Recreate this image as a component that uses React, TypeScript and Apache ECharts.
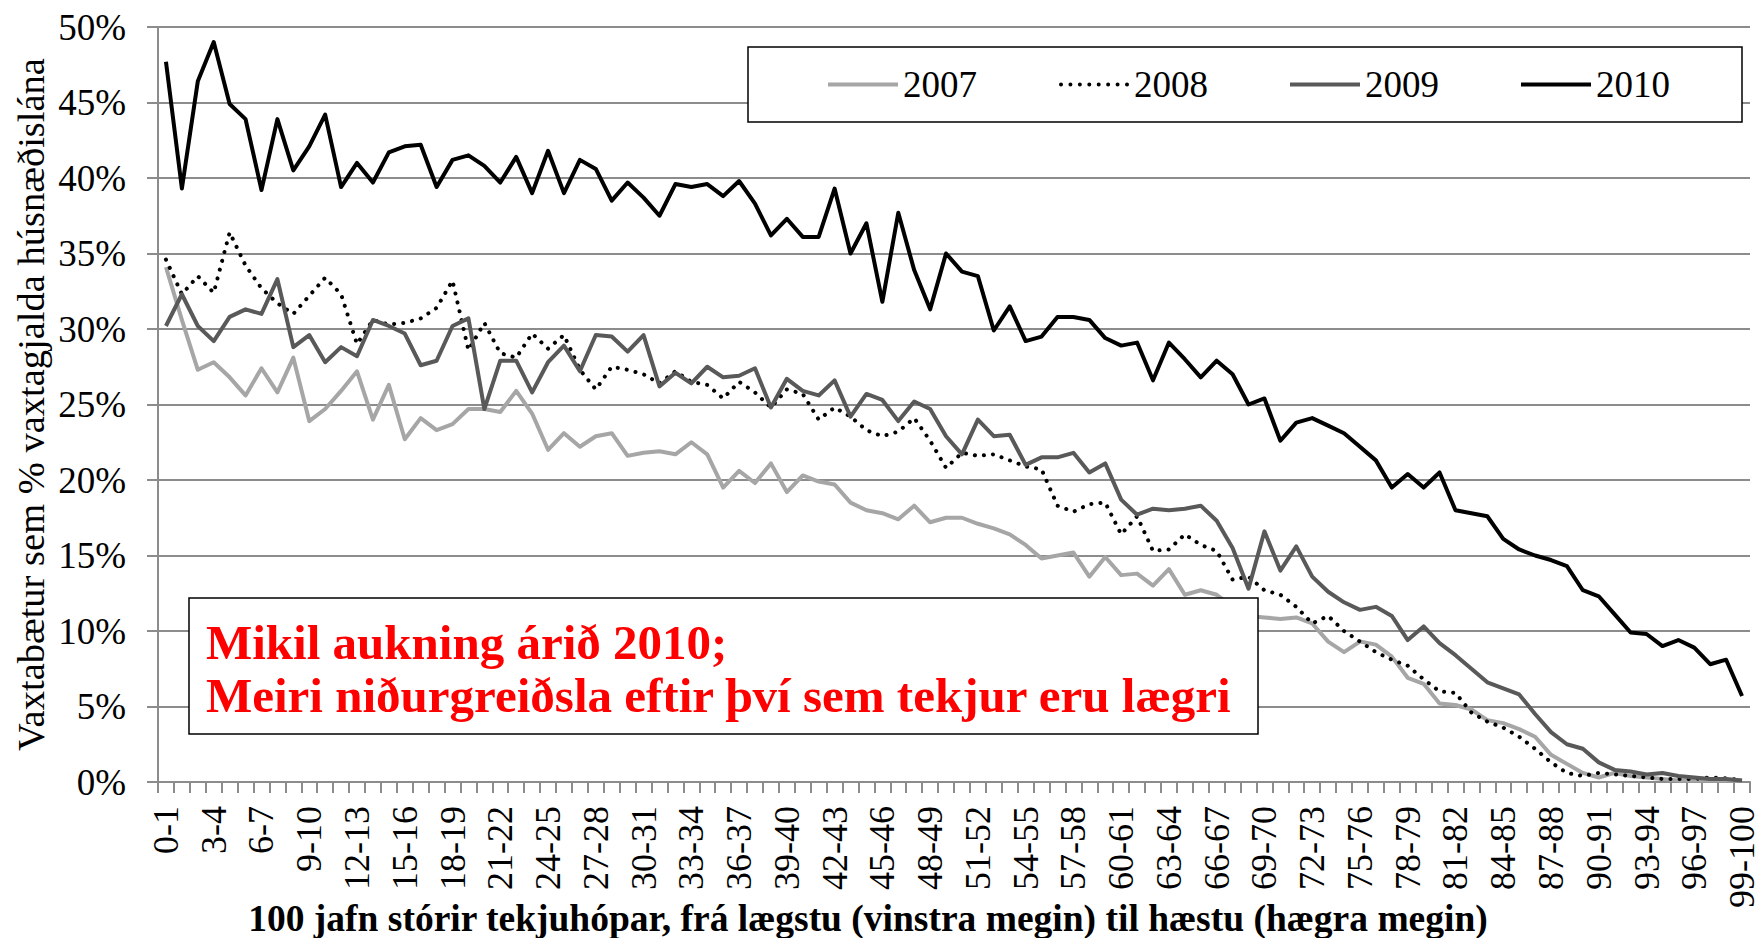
import React, { useEffect, useRef } from "react";
import * as echarts from "echarts";

const categories = [
  "0-1","1-2","2-3","3-4","4-5","5-6","6-7","7-8","8-9","9-10",
  "10-11","11-12","12-13","13-14","14-15","15-16","16-17","17-18","18-19","19-20",
  "20-21","21-22","22-23","23-24","24-25","25-26","26-27","27-28","28-29","29-30",
  "30-31","31-32","32-33","33-34","34-35","35-36","36-37","37-38","38-39","39-40",
  "40-41","41-42","42-43","43-44","44-45","45-46","46-47","47-48","48-49","49-50",
  "50-51","51-52","52-53","53-54","54-55","55-56","56-57","57-58","58-59","59-60",
  "60-61","61-62","62-63","63-64","64-65","65-66","66-67","67-68","68-69","69-70",
  "70-71","71-72","72-73","73-74","74-75","75-76","76-77","77-78","78-79","79-80",
  "80-81","81-82","82-83","83-84","84-85","85-86","86-87","87-88","88-89","89-90",
  "90-91","91-92","92-93","93-94","94-95","95-96","96-97","97-98","98-99","99-100",
];

const seriesNames = ["2007", "2008", "2009", "2010"];

const y2007 = [
  34.1, 30.6, 27.3, 27.8, 26.8, 25.6, 27.4, 25.8, 28.1, 23.9,
  24.7, 25.9, 27.2, 24.0, 26.3, 22.7, 24.1, 23.3, 23.7, 24.7,
  24.7, 24.5, 25.9, 24.4, 22.0, 23.1, 22.2, 22.9, 23.1, 21.6,
  21.8, 21.9, 21.7, 22.5, 21.7, 19.5, 20.6, 19.8, 21.1, 19.2,
  20.3, 19.9, 19.7, 18.5, 18.0, 17.8, 17.4, 18.3, 17.2, 17.5,
  17.5, 17.1, 16.8, 16.4, 15.7, 14.8, 15.0, 15.2, 13.6, 14.9,
  13.7, 13.8, 13.0, 14.1, 12.4, 12.7, 12.4, 11.6, 11.0, 10.9,
  10.8, 10.9, 10.5, 9.3, 8.6, 9.3, 9.1, 8.3, 6.9, 6.5,
  5.2, 5.1, 4.8, 4.1, 3.9, 3.5, 3.0, 1.8, 1.2, 0.6,
  0.3, 0.6, 0.4, 0.3, 0.2, 0.1, 0.1, 0.1, 0.1, 0.1,
];

const y2008 = [
  34.6, 32.3, 33.5, 32.4, 36.4, 34.2, 32.7, 31.7, 31.0, 32.2,
  33.4, 32.3, 29.0, 30.6, 30.3, 30.4, 30.7, 31.4, 33.2, 28.6,
  30.4, 28.4, 28.1, 29.7, 28.7, 29.6, 27.3, 26.0, 27.5, 27.3,
  27.0, 26.4, 27.2, 26.5, 26.3, 25.4, 26.5, 25.8, 24.8, 26.0,
  25.7, 24.0, 24.8, 24.2, 23.3, 22.9, 23.2, 24.1, 22.6, 20.8,
  21.8, 21.6, 21.7, 21.3, 20.9, 20.7, 18.3, 17.9, 18.4, 18.5,
  16.4, 17.6, 15.3, 15.4, 16.4, 15.7, 15.3, 13.4, 13.6, 12.7,
  12.4, 11.6, 10.5, 11.0, 10.0, 9.3, 8.6, 8.1, 7.7, 6.8,
  6.0, 5.9, 4.6, 4.0, 3.6, 3.0, 2.2, 1.3, 0.6, 0.4,
  0.6, 0.5, 0.4, 0.3, 0.2, 0.2, 0.2, 0.3, 0.25, 0.1,
];

const y2009 = [
  30.2, 32.3, 30.2, 29.2, 30.8, 31.3, 31.0, 33.3, 28.8, 29.6,
  27.8, 28.8, 28.2, 30.6, 30.2, 29.7, 27.6, 27.9, 30.2, 30.7,
  24.7, 27.9, 27.9, 25.8, 27.8, 28.9, 27.2, 29.6, 29.5, 28.5,
  29.6, 26.2, 27.1, 26.4, 27.5, 26.8, 26.9, 27.4, 24.8, 26.7,
  25.9, 25.6, 26.6, 24.2, 25.7, 25.3, 23.9, 25.2, 24.7, 22.9,
  21.7, 24.0, 22.9, 23.0, 21.0, 21.5, 21.5, 21.8, 20.5, 21.1,
  18.7, 17.7, 18.1, 18.0, 18.1, 18.3, 17.3, 15.5, 12.8, 16.6,
  14.0, 15.6, 13.6, 12.6, 11.9, 11.4, 11.6, 11.0, 9.4, 10.3,
  9.2, 8.4, 7.5, 6.6, 6.2, 5.8, 4.5, 3.3, 2.5, 2.2,
  1.3, 0.8, 0.7, 0.5, 0.6, 0.4, 0.3, 0.2, 0.2, 0.1,
];

const y2010 = [
  47.7, 39.3, 46.4, 49.0, 44.9, 43.9, 39.2, 43.9, 40.5, 42.1,
  44.2, 39.4, 41.0, 39.7, 41.7, 42.1, 42.2, 39.4, 41.2, 41.5,
  40.8, 39.7, 41.4, 39.0, 41.8, 39.0, 41.2, 40.6, 38.5, 39.7,
  38.7, 37.5, 39.6, 39.4, 39.6, 38.8, 39.8, 38.3, 36.2, 37.3,
  36.1, 36.1, 39.3, 35.0, 37.0, 31.8, 37.7, 33.9, 31.3, 35.0,
  33.8, 33.5, 29.9, 31.5, 29.2, 29.5, 30.8, 30.8, 30.6, 29.4,
  28.9, 29.1, 26.6, 29.1, 28.0, 26.8, 27.9, 27.0, 25.0, 25.4,
  22.6, 23.8, 24.1, 23.6, 23.1, 22.2, 21.3, 19.5, 20.4, 19.5,
  20.5, 18.0, 17.8, 17.6, 16.1, 15.4, 15.0, 14.7, 14.3, 12.7,
  12.3, 11.1, 9.9, 9.8, 9.0, 9.4, 8.9, 7.8, 8.1, 5.7,
];

const yTicks = { min: 0, max: 50, interval: 5 };

const xTitle = "100 jafn stórir tekjuhópar, frá lægstu (vinstra megin) til hæstu (hægra megin)";
const yTitle = "Vaxtabætur sem % vaxtagjalda húsnæðislána";
const noteLines = ["Mikil aukning árið 2010;", "Meiri niðurgreiðsla eftir því sem tekjur eru lægri"];

const FONT = "Liberation Serif, DejaVu Serif";
const AXIS_GRAY = "#8c8c8c";

const SOLID_ICON = "rect";
const DOTTED_ICON =
  "path://M0,2a2,2 0 1,0 4,0a2,2 0 1,0 -4,0z" +
  "M9.43,2a2,2 0 1,0 4,0a2,2 0 1,0 -4,0z" +
  "M18.86,2a2,2 0 1,0 4,0a2,2 0 1,0 -4,0z" +
  "M28.29,2a2,2 0 1,0 4,0a2,2 0 1,0 -4,0z" +
  "M37.71,2a2,2 0 1,0 4,0a2,2 0 1,0 -4,0z" +
  "M47.14,2a2,2 0 1,0 4,0a2,2 0 1,0 -4,0z" +
  "M56.57,2a2,2 0 1,0 4,0a2,2 0 1,0 -4,0z" +
  "M66,2a2,2 0 1,0 4,0a2,2 0 1,0 -4,0z";

export default function App() {
  const ref = useRef<HTMLDivElement>(null);

  useEffect(() => {
    if (!ref.current) return;
    const chart = echarts.init(ref.current, null, { renderer: "svg" });

    const lineSeries = (name: string, data: number[], color: string, extra: any = {}) => ({
      name,
      type: "line",
      data,
      symbol: "none",
      showSymbol: false,
      smooth: false,
      lineStyle: { color, width: 4, join: "round", ...extra },
      itemStyle: { color },
      emphasis: { disabled: true },
    });

    const option: any = {
      animation: false,
      backgroundColor: "#ffffff",
      textStyle: { fontFamily: FONT },
      grid: {
        left: 158,
        top: 27,
        width: 1592,
        height: 755,
        containLabel: false,
        outerBoundsMode: "none",
      },
      legend: {
        data: [
          { name: seriesNames[0], icon: SOLID_ICON },
          { name: seriesNames[1], icon: DOTTED_ICON },
          { name: seriesNames[2], icon: SOLID_ICON },
          { name: seriesNames[3], icon: SOLID_ICON },
        ],
        left: 748,
        top: 47,
        orient: "horizontal",
        backgroundColor: "#ffffff",
        borderColor: "#000000",
        borderWidth: 1.5,
        borderRadius: 0,
        padding: [19, 72, 19, 80],
        itemWidth: 70,
        itemHeight: 4,
        itemGap: 82,
        textStyle: { fontSize: 37, fontFamily: FONT, color: "#000000" },
      },
      xAxis: {
        type: "category",
        data: categories,
        boundaryGap: true,
        name: xTitle,
        nameLocation: "middle",
        nameGap: 117,
        nameMoveOverlap: false,
        nameTextStyle: {
          fontSize: 37.5,
          fontWeight: "bold",
          fontFamily: FONT,
          color: "#000000",
          padding: [0, 172, 0, 0],
        },
        axisLine: { show: true, lineStyle: { color: AXIS_GRAY, width: 2 } },
        axisTick: { show: true, interval: 0, length: 11, lineStyle: { color: AXIS_GRAY, width: 2 } },
        axisLabel: {
          interval: 2,
          rotate: 90,
          margin: 24,
          fontSize: 36,
          lineHeight: 30,
          fontFamily: FONT,
          color: "#000000",
        },
        splitLine: { show: false },
      },
      yAxis: {
        type: "value",
        min: yTicks.min,
        max: yTicks.max,
        interval: yTicks.interval,
        name: yTitle,
        nameLocation: "middle",
        nameRotate: 90,
        nameGap: 108,
        nameMoveOverlap: false,
        nameTextStyle: { fontSize: 38.5, fontFamily: FONT, color: "#000000" },
        axisLine: { show: true, lineStyle: { color: AXIS_GRAY, width: 2 } },
        axisTick: { show: true, length: 11, lineStyle: { color: AXIS_GRAY, width: 2 } },
        axisLabel: {
          formatter: "{value}%",
          margin: 32,
          fontSize: 37,
          fontFamily: FONT,
          color: "#000000",
        },
        splitLine: { show: true, lineStyle: { color: AXIS_GRAY, width: 2 } },
      },
      series: [
        lineSeries(seriesNames[0], y2007, "#a6a6a6"),
        lineSeries(seriesNames[1], y2008, "#000000", { type: [0.1, 9], cap: "round", width: 4 }),
        lineSeries(seriesNames[2], y2009, "#595959"),
        lineSeries(seriesNames[3], y2010, "#000000"),
      ],
      graphic: [
        {
          type: "group",
          z: 100,
          children: [
            {
              type: "rect",
              shape: { x: 189, y: 598, width: 1069, height: 136 },
              style: { fill: "#ffffff", stroke: "#000000", lineWidth: 1.5 },
              z: 100,
            },
            {
              type: "text",
              x: 206,
              y: 642,
              z: 101,
              style: {
                text: noteLines[0],
                fill: "#ff0000",
                fontSize: 49,
                fontWeight: "bold",
                fontFamily: FONT,
                textAlign: "left",
                textVerticalAlign: "middle",
              },
            },
            {
              type: "text",
              x: 206,
              y: 695,
              z: 101,
              style: {
                text: noteLines[1],
                fill: "#ff0000",
                fontSize: 49,
                fontWeight: "bold",
                fontFamily: FONT,
                textAlign: "left",
                textVerticalAlign: "middle",
              },
            },
          ],
        },
      ],
    };

    chart.setOption(option);
    return () => chart.dispose();
  }, []);

  return (
    <div
      ref={ref}
      style={{ position: "fixed", left: 0, top: 0, width: 1761, height: 938, background: "#ffffff" }}
    />
  );
}
